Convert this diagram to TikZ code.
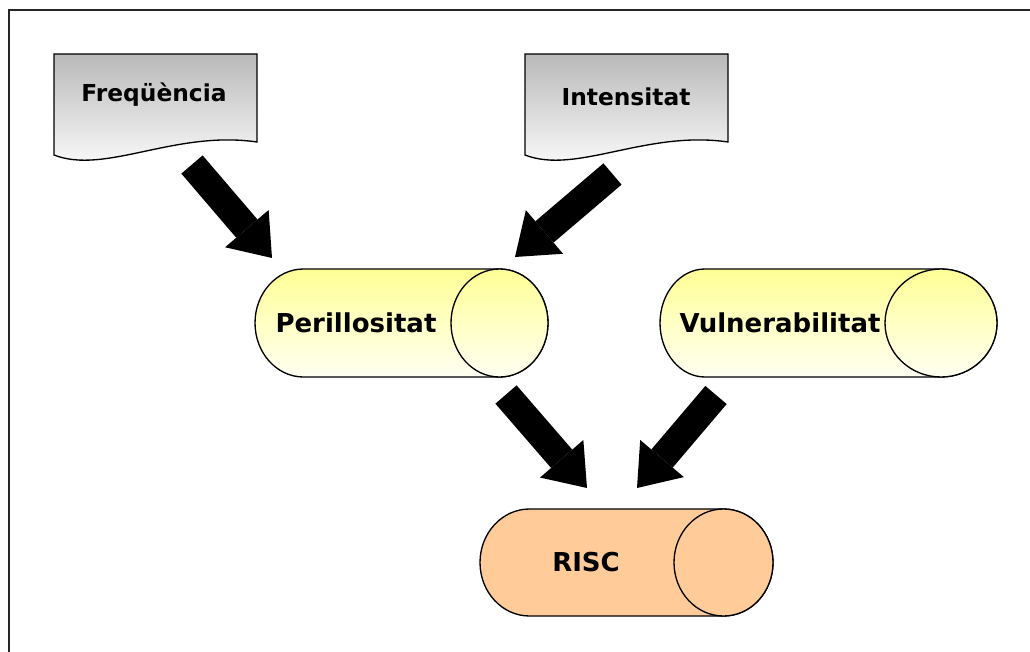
\documentclass[tikz,border=0pt]{standalone}
\usepackage{fontspec}
\setmainfont{DejaVu Sans}
\usetikzlibrary{arrows.meta}
\definecolor{lightyellow}{RGB}{255,255,150}
\definecolor{paleyellow}{RGB}{255,255,242}
\definecolor{riscorange}{RGB}{255,204,153}
\definecolor{docgray}{RGB}{185,185,185}

\begin{document}
\begin{tikzpicture}[line join=miter, x=0.75pt, y=0.75pt,
  doctext/.style={font=\fontsize{17.5}{20}\selectfont\bfseries},
  cyltext/.style={font=\fontsize{19.5}{22}\selectfont\bfseries},
  fatarrow/.style={line width=21pt, -{Triangle[length=29pt, width=43pt, line width=0pt]}},
  docshape/.style={draw=black, line width=1pt, top color=docgray, bottom color=white},
  yellowcyl/.style={draw=black, line width=1pt, top color=lightyellow, bottom color=paleyellow},
  orangecyl/.style={draw=black, line width=1pt, fill=riscorange}]
\useasboundingbox (0,0) rectangle (1030,-652);
% frame
\draw [line width=1.5pt, black!85] (9,-660) -- (9,-10) -- (1040,-10);

% documents
\draw [docshape] (54,-155) -- (54,-54) -- (257,-54) -- (257,-142)
  .. controls (175,-130) and (105,-175) .. cycle;
\draw [docshape] (525,-155) -- (525,-54) -- (728,-54) -- (728,-142)
  .. controls (646,-130) and (576,-175) .. cycle;
\node [doctext] (freq) at (154,-95) {Freqüència};
\node [doctext] (inten) at (626,-97) {Intensitat};

% cylinders
\draw [yellowcyl] (499.5,-269) -- (303.5,-269)
  arc [start angle=90, end angle=270, x radius=48.5, y radius=54] -- (499.5,-377)
  arc [start angle=-90, end angle=90, x radius=48.5, y radius=54] -- cycle;
\draw [yellowcyl] (499.5,-323) ellipse [x radius=48.5, y radius=54];
\node [cyltext] (peril) at (356,-323) {Perillositat};

\draw [yellowcyl] (941,-269) -- (705,-269)
  arc [start angle=90, end angle=270, x radius=45, y radius=54] -- (941,-377)
  arc [start angle=-90, end angle=90, x radius=56, y radius=54] -- cycle;
\draw [yellowcyl] (941,-323) ellipse [x radius=56, y radius=54];
\node [cyltext] (vulner) at (780,-323) {Vulnerabilitat};

\draw [orangecyl] (723.5,-509) -- (529.5,-509)
  arc [start angle=90, end angle=270, x radius=49.5, y radius=53.5] -- (723.5,-616)
  arc [start angle=-90, end angle=90, x radius=49.5, y radius=53.5] -- cycle;
\draw [orangecyl] (723.5,-562.5) ellipse [x radius=49.5, y radius=53.5];
\node [cyltext] (risc) at (586,-562) {RISC};

% arrows
\coordinate (freq-out) at (192,-164.5);
\coordinate (peril-in1) at (272,-258);
\coordinate (inten-out) at (612.5,-174);
\coordinate (peril-in2) at (515,-257);
\coordinate (peril-out) at (506,-394.5);
\coordinate (risc-in1) at (587,-488);
\coordinate (vulner-out) at (716,-395);
\coordinate (risc-in2) at (637,-488);
\draw [fatarrow] (freq-out) -- (peril-in1);
\draw [fatarrow] (inten-out) -- (peril-in2);
\draw [fatarrow] (peril-out) -- (risc-in1);
\draw [fatarrow] (vulner-out) -- (risc-in2);
\end{tikzpicture}
\end{document}
